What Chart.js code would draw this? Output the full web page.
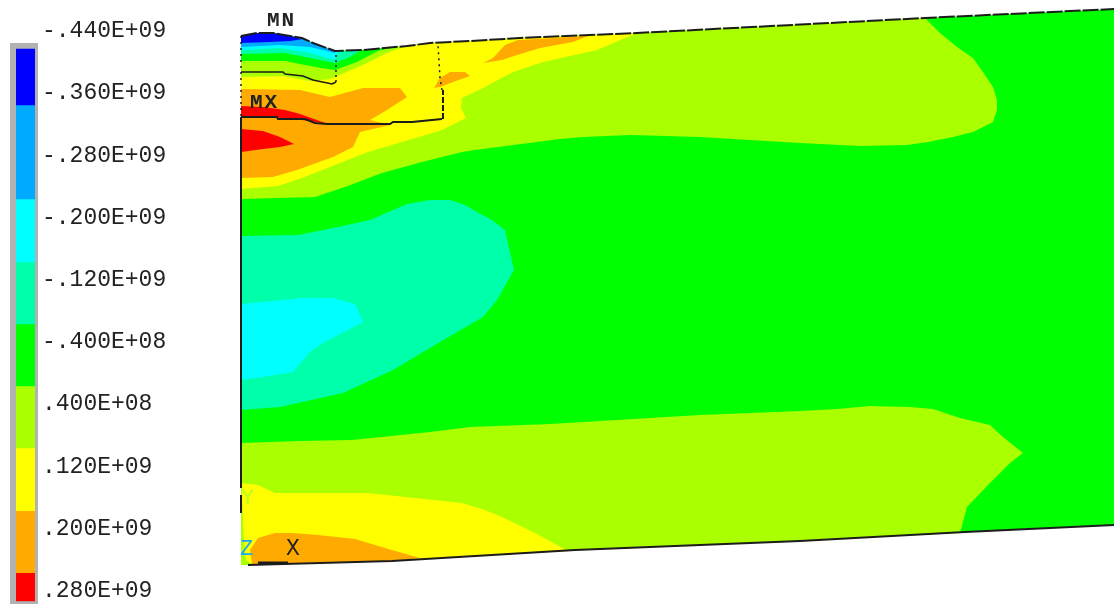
<!DOCTYPE html>
<html>
<head>
<meta charset="utf-8">
<title>Contour plot</title>
<script src="https://cdn.jsdelivr.net/npm/chart.js@4"></script>
<style>
  html, body { margin: 0; padding: 0; background: #fff; overflow: hidden; }
  #wrap { position: relative; width: 1114px; height: 604px; }
  #wrap canvas { position: absolute; left: 0; top: 0; filter: blur(0.4px); }
  #legendFrame { position: absolute; left: 10px; top: 43px; width: 28px; height: 561px; background: #b2b2b2; }
</style>
</head>
<body>
<div id="wrap">
  <canvas id="plot" width="1114" height="604"></canvas>
  <div id="legendFrame"></div>
  <canvas id="legend" width="180" height="604"></canvas>
</div>
<script>
// --- Legend data ---
const legendLevels = [-440, -360, -280, -200, -120, -40, 40, 120, 200, 280];
const legendLabels = ['-.440E+09', '-.360E+09', '-.280E+09', '-.200E+09', '-.120E+09', '-.400E+08', '.400E+08', '.120E+09', '.200E+09', '.280E+09'];
const legendEdges = [-416.9, -344.9, -224, -143, -63.3, 16.4, 96.1, 176.7, 256.4, 292.7];

// --- Colours ---
const BLUE = '#0000ff', SKY = '#00aaff', CYAN = '#00ffff', TEAL = '#00ffaa', GREEN = '#00ff00';
const LIME = '#aaff00', YELLOW = '#ffff00', ORANGE = '#ffaa00', RED = '#ff0000';
const legendColors = [BLUE, SKY, CYAN, TEAL, GREEN, LIME, YELLOW, ORANGE, RED];

// --- Contour regions ---
const domain = [[241,36],[257,33],[273,33],[290,36],[302,38],[313,43],[335,51],[363,50],[407,46],[430,43],[470,41],[520,38],[637,33],[925,18],[1114,9],[1114,525],[965,532],[800,541],[575,550],[392,561],[241,565]];
const limeTop = [[241,36],[257,33],[273,33],[290,36],[302,38],[313,43],[335,51],[363,50],[407,46],[430,43],[470,41],[520,38],[637,33],[925,18],[940,33],[957,47],[973,58],[983,72],[993,87],[997,100],[997,110],[993,122],[973,132],[953,137],[928,142],[907,145],[860,146],[800,143],[700,137],[630,135],[583,137],[560,139],[475,150],[462,152],[422,162],[382,173],[345,187],[315,197],[278,198],[241,199]];
const limeBottom = [[241,443],[300,441],[352,440],[430,432],[470,427],[550,424],[700,415],[800,411],[837,409],[870,406],[910,407],[933,409],[960,418],[990,425],[1003,437],[1023,453],[1010,463],[988,485],[967,507],[960,533],[800,541],[575,550],[392,561],[241,565]];
const yellowTop = [[241,36],[257,33],[273,33],[290,36],[302,38],[313,43],[335,51],[363,50],[407,46],[430,43],[470,41],[520,38],[637,33],[597,50],[543,62],[513,72],[483,88],[462,98],[461,108],[466,118],[442,130],[402,142],[368,152],[335,165],[302,178],[278,186],[241,189]];
const yellowBottom = [[242,483],[258,485],[275,493],[368,493],[415,498],[462,503],[485,510],[502,517],[535,533],[568,551],[392,561],[252,564],[246,560],[244,540],[242,500]];
const limeWedge = [[241,36],[257,33],[273,33],[290,36],[302,38],[313,43],[335,51],[363,50],[407,46],[387,53],[363,65],[330,79],[310,81],[283,76],[241,77]];
const greenWedge = [[241,36],[257,33],[273,33],[290,36],[302,38],[313,43],[335,51],[363,50],[395,47],[378,51],[357,62],[335,70],[315,67],[285,61],[241,61]];
const tealWedge = [[241,36],[257,33],[273,33],[290,36],[302,38],[313,43],[335,51],[362,50],[350,57],[335,63],[310,58],[285,53],[241,54]];
const cyanWedge = [[241,36],[257,33],[273,33],[290,36],[302,38],[313,43],[335,51],[338,52],[335,60],[310,53],[280,48],[241,50]];
const skyWedge = [[241,36],[257,33],[273,33],[290,36],[302,38],[313,43],[335,51],[335,53],[310,47],[280,45],[241,47]];
const blueCap = [[241,36],[257,33],[273,33],[290,36],[303,39],[290,41],[270,42],[241,43]];
const orangeMain = [[241,89],[300,90],[330,97],[363,88],[400,88],[407,97],[387,110],[370,120],[390,125],[360,132],[353,147],[333,157],[297,170],[273,177],[241,178]];
const orangeCrest = [[483,63],[493,58],[505,45],[518,40],[588,36],[573,42],[540,48],[517,55],[502,60]];
const orangeSpot = [[434,88],[440,78],[450,72],[465,72],[470,76],[453,82],[440,87]];
const orangeBottom = [[250,550],[258,538],[275,533],[292,533],[318,535],[355,539],[385,548],[420,558],[392,561],[252,564]];
const redUpper = [[241,106],[263,107],[285,110],[300,114],[328,124],[310,121],[285,118],[241,117]];
const redLower = [[241,129],[263,131],[280,137],[294,144],[280,147],[263,149],[241,152]];
const tealBlob = [[241,236],[298,235],[333,228],[370,220],[407,204],[430,200],[450,200],[465,205],[477,212],[492,220],[505,230],[509,248],[514,270],[497,300],[483,317],[440,342],[393,370],[343,393],[280,407],[241,410]];
const cyanBlob = [[241,304],[302,298],[333,298],[355,304],[363,322],[323,343],[310,352],[293,372],[263,377],[241,380]];

// --- Outlines ---
const topEdge = [[241,36],[257,33],[273,33],[290,36],[302,38],[313,43],[335,51],[363,50],[407,46],[430,43],[470,41],[520,38],[637,33],[925,18],[1114,9]];
const bottomEdge = [[248,565],[392,561],[575,550],[800,541],[965,532],[1114,525]];
const bottomThick = [[258,563],[288,563]];
const leftEdge = [[241,117],[241,488]];
const leftEdgeLow = [[241,495],[241,513]];
const leftDotted = [[241,36],[241,117]];
const upperLine = [[241,72],[283,72],[285,74],[303,76],[313,80],[332,84],[336,82]];
const upperDotted = [[336,82],[336,52]];
const lowerLine = [[241,117],[277,117],[278,119],[305,119],[315,123],[327,124],[390,124],[393,122],[412,122],[442,119]];
const sideDashed = [[443,119],[443,90]];
const sideDotted = [[442,90],[440,78],[438,45]];

// --- Layers, listed bottom to top ---
const fillLayers = [
  [domain, GREEN], [limeTop, LIME], [limeBottom, LIME],
  [yellowTop, YELLOW], [yellowBottom, YELLOW],
  [limeWedge, LIME], [greenWedge, GREEN], [tealWedge, TEAL], [cyanWedge, CYAN], [skyWedge, SKY], [blueCap, BLUE],
  [orangeMain, ORANGE], [orangeCrest, ORANGE], [orangeSpot, ORANGE], [orangeBottom, ORANGE],
  [redUpper, RED], [redLower, RED], [tealBlob, TEAL], [cyanBlob, CYAN],
];
const lineLayers = [
  [topEdge, 2, [16, 2]], [bottomEdge, 2, []], [bottomThick, 3, []],
  [leftEdge, 2, []], [leftEdgeLow, 2, []], [leftDotted, 1.5, [2, 4]],
  [upperLine, 1.5, []], [upperDotted, 1.5, [2, 3]], [lowerLine, 2, []],
  [sideDashed, 2, [6, 2]], [sideDotted, 1.5, [2, 4]],
];

// datasets paint last to first, so the stack goes in reversed and lines go in front
const fillSets = fillLayers.slice().reverse().map(([points, color]) => ({
  data: points.concat([points[0]]),
  backgroundColor: color,
  borderWidth: 0,
  fill: 'shape',
  showLine: true,
  pointRadius: 0,
}));
const lineSets = lineLayers.map(([points, width, dash]) => ({
  data: points,
  borderColor: '#1c1c1c',
  borderWidth: width,
  borderDash: dash,
  fill: false,
  showLine: true,
  pointRadius: 0,
}));

// text that sits on the plot
const plotText = {
  id: 'plotText',
  afterDraw(chart) {
    const { ctx, scales: { x, y } } = chart;
    const put = (str, px, py, font, color, spacing) => {
      ctx.save();
      ctx.font = font;
      ctx.fillStyle = color;
      ctx.letterSpacing = spacing || '0px';
      ctx.textBaseline = 'middle';
      ctx.textAlign = 'left';
      ctx.fillText(str, x.getPixelForValue(px), y.getPixelForValue(py));
      ctx.restore();
    };
    put('MN', 267, 21, 'bold 21px "Liberation Mono"', '#222', '2px');
    put('MX', 250, 103, 'bold 21px "Liberation Mono"', '#222', '2px');
    put('X', 286, 549, '23px "Liberation Mono"', '#222');
    put('Y', 241, 498, '22px "Liberation Mono"', '#b8ff20');
    put('Z', 240, 549, '22px "Liberation Mono"', '#1fa8f0');
  },
};

new Chart(document.getElementById('plot'), {
  type: 'scatter',
  data: { datasets: lineSets.concat(fillSets) },
  options: {
    responsive: false,
    animation: false,
    layout: { padding: 0 },
    plugins: { legend: { display: false }, tooltip: { enabled: false } },
    scales: {
      x: { type: 'linear', display: false, min: 0, max: 1114 },
      y: { type: 'linear', display: false, min: 0, max: 604, reverse: true },
    },
  },
  plugins: [plotText],
});

// --- Colour key ---
const legendSets = legendColors.map((color, i) => ({
  data: [[legendEdges[i], legendEdges[i + 1]]],
  backgroundColor: color,
  grouped: false,
  barPercentage: 1,
  categoryPercentage: 1,
}));

new Chart(document.getElementById('legend'), {
  type: 'bar',
  data: { labels: [''], datasets: legendSets },
  options: {
    responsive: false,
    animation: false,
    layout: { padding: { left: 16 } },
    plugins: { legend: { display: false }, tooltip: { enabled: false } },
    scales: {
      x: { display: false },
      y: {
        position: 'right',
        reverse: true,
        min: -479.86,
        max: 296.7,
        grid: { display: false, drawTicks: false },
        border: { display: false },
        afterBuildTicks: scale => { scale.ticks = legendLevels.map(value => ({ value })); },
        afterFit: scale => { scale.width = 145; scale.paddingTop = 0; scale.paddingBottom = 0; },
        ticks: {
          autoSkip: false,
          padding: 7,
          color: '#222',
          font: { family: '"Liberation Mono"', size: 23 },
          callback: value => legendLabels[legendLevels.indexOf(value)],
        },
      },
    },
  },
});
</script>
</body>
</html>
